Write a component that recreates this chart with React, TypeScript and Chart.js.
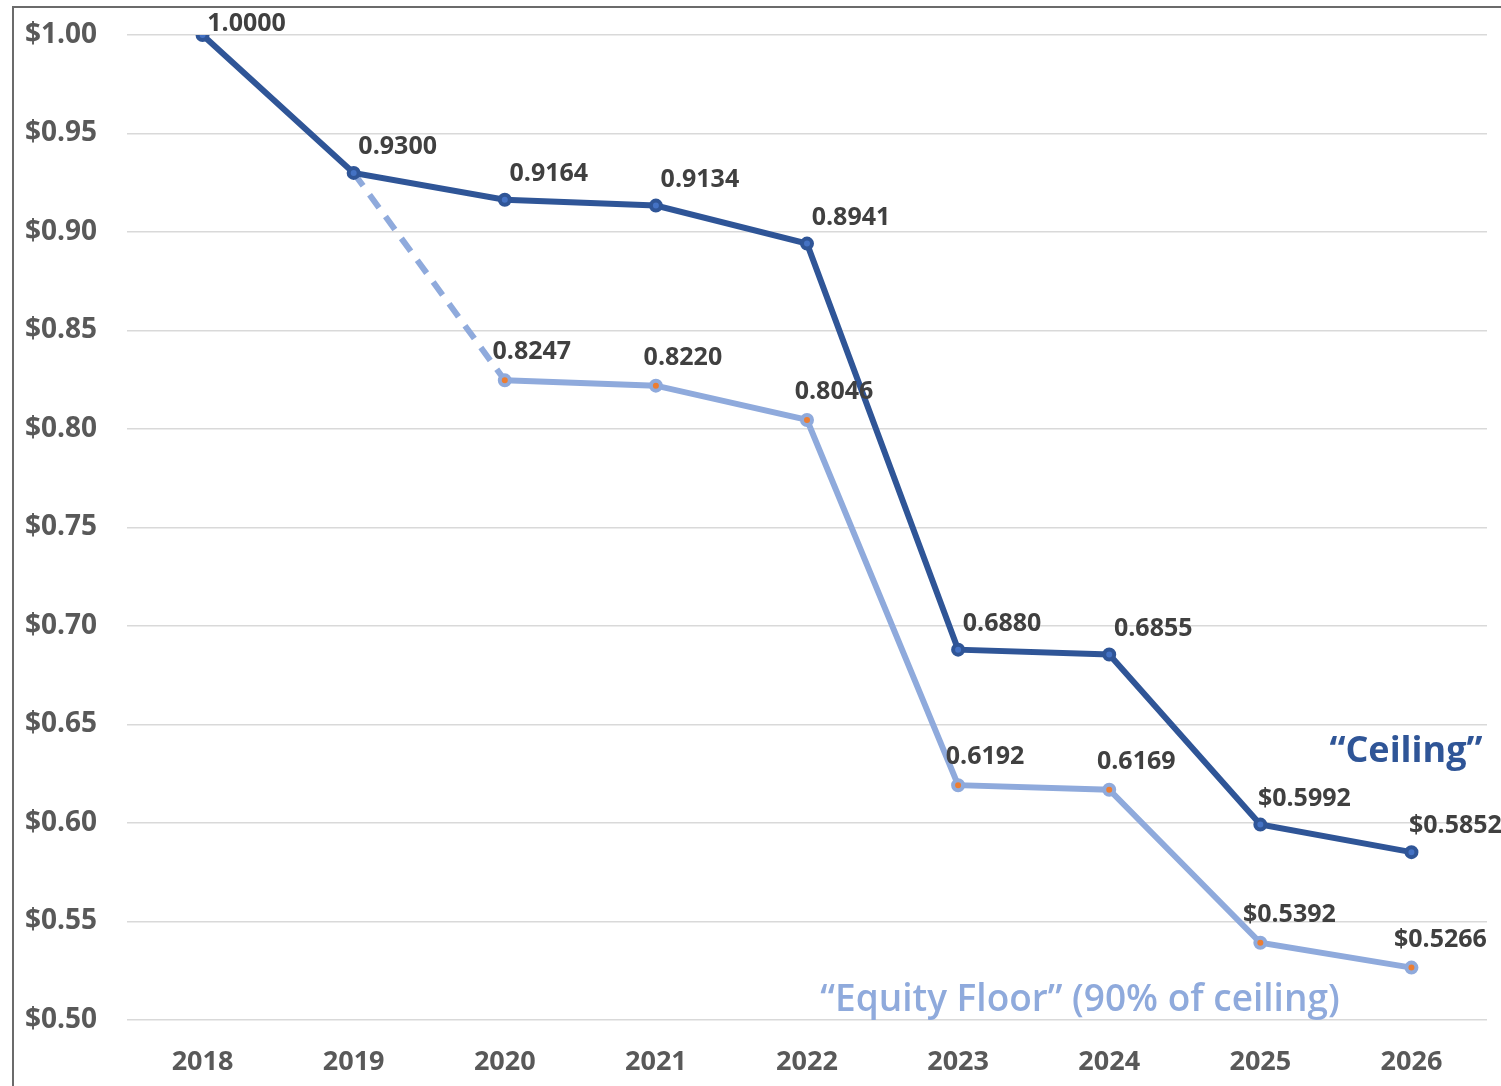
import React, { useEffect, useRef } from "react";
import { Chart, registerables } from "chart.js";

Chart.register(...registerables);

const years = ["2018", "2019", "2020", "2021", "2022", "2023", "2024", "2025", "2026"];
const ceilingValues = [1.0, 0.93, 0.9164, 0.9134, 0.8941, 0.688, 0.6855, 0.5992, 0.5852];
const floorValues = [null, 0.93, 0.8247, 0.822, 0.8046, 0.6192, 0.6169, 0.5392, 0.5266];
const ceilingLabels = ["1.0000", "0.9300", "0.9164", "0.9134", "0.8941", "0.6880", "0.6855", "$0.5992", "$0.5852"];
const floorLabels = ["", "", "0.8247", "0.8220", "0.8046", "0.6192", "0.6169", "$0.5392", "$0.5266"];
const yTickValues = [0.5, 0.55, 0.6, 0.65, 0.7, 0.75, 0.8, 0.85, 0.9, 0.95, 1.0];

const DARK = "#2F5597";
const LIGHT = "#8FAADC";
const FONT = "'Open Sans', sans-serif";

const decorPlugin = {
  id: "decor",
  beforeDraw(chart: any) {
    const ctx = chart.ctx;
    ctx.save();
    ctx.fillStyle = "#ffffff";
    ctx.fillRect(0, 0, chart.width, chart.height);
    ctx.strokeStyle = "#6b6b6b";
    ctx.lineWidth = 2;
    ctx.beginPath();
    ctx.moveTo(13, chart.height);
    ctx.lineTo(13, 7);
    ctx.lineTo(chart.width, 7);
    ctx.stroke();
    ctx.restore();
  },
  afterDatasetsDraw(chart: any) {
    const ctx = chart.ctx;
    ctx.save();
    ctx.font = `700 25px ${FONT}`;
    ctx.fillStyle = "#404040";
    ctx.textAlign = "center";
    ctx.textBaseline = "middle";
    const m0 = chart.getDatasetMeta(0);
    m0.data.forEach((pt: any, i: number) => {
      const dy = i === 0 ? -11 : -26;
      ctx.fillText(ceilingLabels[i], pt.x + 44, pt.y + dy);
    });
    const m1 = chart.getDatasetMeta(1);
    m1.data.forEach((pt: any, i: number) => {
      if (!floorLabels[i]) return;
      const dx = i >= 7 ? 29 : 27;
      ctx.fillText(floorLabels[i], pt.x + dx, pt.y - 28);
    });
    ctx.font = `700 36px ${FONT}`;
    ctx.fillStyle = DARK;
    ctx.fillText("\u201CCeiling\u201D", 1406, 752);
    ctx.font = `600 37px ${FONT}`;
    ctx.fillStyle = LIGHT;
    ctx.fillText("\u201CEquity Floor\u201D (90% of ceiling)", 1080, 1000);
    ctx.restore();
  },
};

export default function App() {
  const ref = useRef<HTMLCanvasElement | null>(null);
  useEffect(() => {
    if (!ref.current) return;
    const chart = new Chart(ref.current, {
      type: "line",
      data: {
        labels: years,
        datasets: [
          {
            data: ceilingValues,
            borderColor: DARK,
            backgroundColor: "#4472C4",
            borderWidth: 6,
            pointRadius: 5,
            pointBorderWidth: 4,
            pointBorderColor: DARK,
            pointBackgroundColor: "#4472C4",
            tension: 0,
            order: 0,
          },
          {
            data: floorValues,
            borderColor: LIGHT,
            backgroundColor: "#ED7D31",
            borderWidth: 6,
            pointRadius: floorValues.map((v, i) => (i <= 1 ? 0 : 5)),
            pointBorderWidth: 4,
            pointBorderColor: LIGHT,
            pointBackgroundColor: "#ED7D31",
            tension: 0,
            order: 1,
            segment: {
              borderDash: (c: any) => (c.p0DataIndex === 1 ? [16, 11] : undefined),
            },
          },
        ],
      },
      plugins: [decorPlugin],
      options: {
        responsive: false,
        animation: false,
        layout: { padding: { left: 0, right: 14, top: 35, bottom: 0 } },
        plugins: { legend: { display: false }, tooltip: { enabled: false } },
        scales: {
          x: {
            offset: true,
            grid: { display: false, drawTicks: false },
            border: { display: false },
            ticks: {
              color: "#595959",
              font: { family: FONT, size: 27, weight: "700" },
              padding: 26,
              maxRotation: 0,
            },
            afterFit: (s: any) => {
              s.height = 66;
              s.paddingLeft = 0;
              s.paddingRight = 0;
            },
          },
          y: {
            min: 0.5,
            max: 1.0,
            grid: { color: "#D9D9D9", lineWidth: 1.5, drawTicks: false },
            border: { display: false },
            afterBuildTicks: (s: any) => {
              s.ticks = yTickValues.map((v) => ({ value: v }));
            },
            ticks: {
              color: "#595959",
              font: { family: FONT, size: 28, weight: "700" },
              padding: 30,
              callback: (v: any) => "$" + Number(v).toFixed(2),
            },
            afterFit: (s: any) => {
              s.width = 127;
              s.paddingTop = 0;
              s.paddingBottom = 0;
            },
          },
        },
      },
    });
    return () => chart.destroy();
  }, []);
  return (
    <div style={{ position: "absolute", left: 0, top: 0, width: 1501, height: 1086, background: "#fff" }}>
      <canvas ref={ref} width={1501} height={1086} style={{ display: "block" }} />
    </div>
  );
}
